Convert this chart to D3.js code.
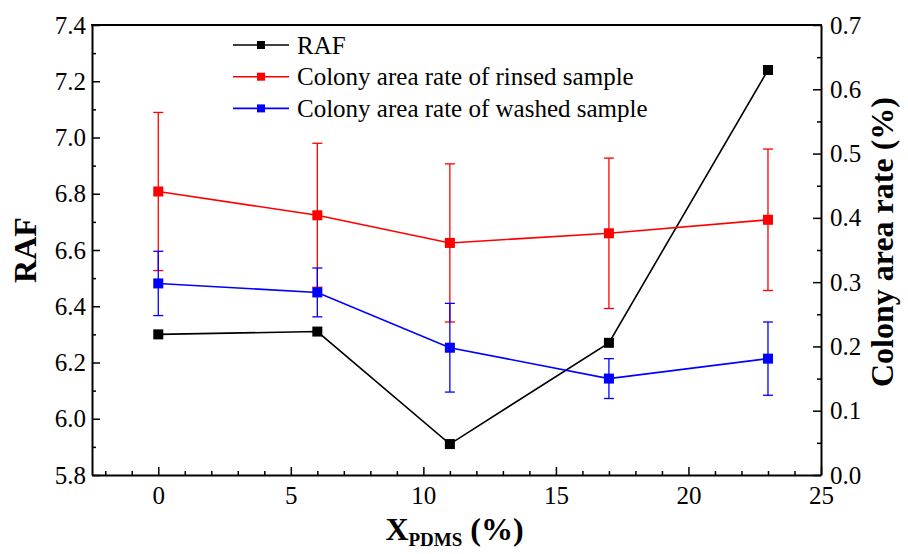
<!DOCTYPE html>
<html>
<head>
<meta charset="utf-8">
<script src="https://cdn.jsdelivr.net/npm/d3@7/dist/d3.min.js"></script>
<style>
  html, body { margin: 0; padding: 0; background: #fff; }
  svg { display: block; }
</style>
</head>
<body>
<svg id="chart" width="908" height="554"></svg>
<script>
// ---- data ----
const pdms = [0, 6, 11, 17, 23];
const raf = [6.30, 6.31, 5.91, 6.27, 7.24];
const rinsed = [0.441, 0.404, 0.361, 0.376, 0.397];
const rinsedErr = [0.123, 0.112, 0.123, 0.117, 0.110];
const washed = [0.298, 0.284, 0.198, 0.150, 0.181];
const washedErr = [0.050, 0.038, 0.069, 0.031, 0.057];
const xTicks = [0, 5, 10, 15, 20, 25];
const yLeftTicks = [5.8, 6.0, 6.2, 6.4, 6.6, 6.8, 7.0, 7.2, 7.4];
const yRightTicks = [0.0, 0.1, 0.2, 0.3, 0.4, 0.5, 0.6, 0.7];
const legendLabels = ["RAF", "Colony area rate of rinsed sample", "Colony area rate of washed sample"];
const seriesColors = ["#000000", "#ff0000", "#0000ff"];

const FONT = "'Liberation Serif', 'Times New Roman', Times, serif";

// ---- layout ----
const L = 92, R = 821, T = 25, B = 475;
const svg = d3.select("#chart");

const x = d3.scaleLinear().domain([-2.5, 25]).range([L, R]);
const yL = d3.scaleLinear().domain([5.8, 7.4]).range([B, T]);
const yR = d3.scaleLinear().domain([0, 0.7]).range([B, T]);

const tickFont = 25;

// minor ticks
const xMinor = d3.range(-2, 26, 1).filter(v => !xTicks.includes(v));
const yLMinor = d3.range(5.9, 7.4, 0.2).map(v => +v.toFixed(2));
const yRMinor = d3.range(0.05, 0.7, 0.1).map(v => +v.toFixed(2));

function styleAxis(g) {
  g.attr("font-family", FONT);
  g.select(".domain").attr("stroke", "#000").attr("stroke-width", 2);
  g.selectAll(".tick line").attr("stroke", "#000").attr("stroke-width", 1.5);
  g.selectAll(".tick text").style("font-family", FONT).style("font-size", tickFont + "px").attr("fill", "#000");
}

// bottom axis
svg.append("g").attr("transform", `translate(0,${B})`)
  .call(d3.axisBottom(x).tickValues(xMinor).tickSize(-4).tickFormat(""))
  .call(g => { styleAxis(g); g.select(".domain").remove(); });
svg.append("g").attr("transform", `translate(0,${B})`)
  .call(d3.axisBottom(x).tickValues(xTicks).tickSizeInner(-8).tickSizeOuter(0).tickPadding(11).tickFormat(d3.format("d")))
  .call(styleAxis);

// left axis
svg.append("g").attr("transform", `translate(${L},0)`)
  .call(d3.axisLeft(yL).tickValues(yLMinor).tickSize(-4).tickFormat(""))
  .call(g => { styleAxis(g); g.select(".domain").remove(); });
svg.append("g").attr("transform", `translate(${L},0)`)
  .call(d3.axisLeft(yL).tickValues(yLeftTicks).tickSizeInner(-8).tickSizeOuter(0).tickPadding(6).tickFormat(d3.format(".1f")))
  .call(styleAxis);

// right axis
svg.append("g").attr("transform", `translate(${R},0)`)
  .call(d3.axisRight(yR).tickValues(yRMinor).tickSize(-4).tickFormat(""))
  .call(g => { styleAxis(g); g.select(".domain").remove(); });
svg.append("g").attr("transform", `translate(${R},0)`)
  .call(d3.axisRight(yR).tickValues(yRightTicks).tickSizeInner(-8).tickSizeOuter(0).tickPadding(9).tickFormat(d3.format(".1f")))
  .call(styleAxis);

// top frame line
svg.append("line").attr("x1", L - 1).attr("x2", R + 1).attr("y1", T).attr("y2", T)
  .attr("stroke", "#000").attr("stroke-width", 2);

// axis titles
svg.append("text")
  .attr("transform", `translate(29,${(T + B) / 2}) rotate(-90)`)
  .attr("text-anchor", "middle").attr("dominant-baseline", "middle")
  .style("font-family", FONT).style("font-size", "32px").style("font-weight", "bold").text("RAF");

svg.append("text")
  .attr("transform", `translate(886,${(T + B) / 2 - 8}) rotate(-90)`)
  .attr("text-anchor", "middle").attr("dominant-baseline", "middle")
  .style("font-family", FONT).style("font-size", "32px").style("font-weight", "bold").text("Colony area rate (%)");

const xt = svg.append("text").attr("x", (L + R) / 2 - 2).attr("y", 540)
  .attr("text-anchor", "middle").style("font-family", FONT).style("font-size", "32px").style("font-weight", "bold");
xt.append("tspan").text("X");
xt.append("tspan").attr("dy", 6).style("font-size", "19px").text("PDMS");
xt.append("tspan").attr("dy", -6).text(" (%)");

// ---- series ----
const line = (yScale, vals) => d3.line().x((d, i) => x(pdms[i])).y(d => yScale(d))(vals);
const series = [
  { vals: raf, err: null, y: yL, color: seriesColors[0] },
  { vals: rinsed, err: rinsedErr, y: yR, color: seriesColors[1] },
  { vals: washed, err: washedErr, y: yR, color: seriesColors[2] }
];
const ms = 10, cap = 5;
series.forEach(s => {
  const g = svg.append("g");
  if (s.err) {
    s.vals.forEach((v, i) => {
      const cx = x(pdms[i]);
      const y1 = s.y(v + s.err[i]), y2 = s.y(v - s.err[i]);
      g.append("line").attr("x1", cx).attr("x2", cx).attr("y1", y1).attr("y2", y2)
        .attr("stroke", s.color).attr("stroke-width", 1.3);
      [y1, y2].forEach(yy => g.append("line").attr("x1", cx - cap).attr("x2", cx + cap)
        .attr("y1", yy).attr("y2", yy).attr("stroke", s.color).attr("stroke-width", 1.3));
    });
  }
  g.append("path").attr("d", line(s.y, s.vals)).attr("fill", "none")
    .attr("stroke", s.color).attr("stroke-width", 1.6);
  g.selectAll("rect").data(s.vals).enter().append("rect")
    .attr("x", (d, i) => x(pdms[i]) - ms / 2).attr("y", d => s.y(d) - ms / 2)
    .attr("width", ms).attr("height", ms).attr("fill", s.color);
});

// ---- legend ----
const lgX1 = 233, lgX2 = 289, lgY0 = 45, lgDy = 31.7, lms = 8;
legendLabels.forEach((lab, i) => {
  const yy = lgY0 + i * lgDy;
  svg.append("line").attr("x1", lgX1).attr("x2", lgX2).attr("y1", yy).attr("y2", yy)
    .attr("stroke", seriesColors[i]).attr("stroke-width", 1.6);
  svg.append("rect").attr("x", (lgX1 + lgX2) / 2 - lms / 2).attr("y", yy - lms / 2)
    .attr("width", lms).attr("height", lms).attr("fill", seriesColors[i]);
  svg.append("text").attr("x", 297).attr("y", yy).attr("dominant-baseline", "central")
    .style("font-family", FONT).style("font-size", "25px").text(lab);
});
</script>
</body>
</html>
